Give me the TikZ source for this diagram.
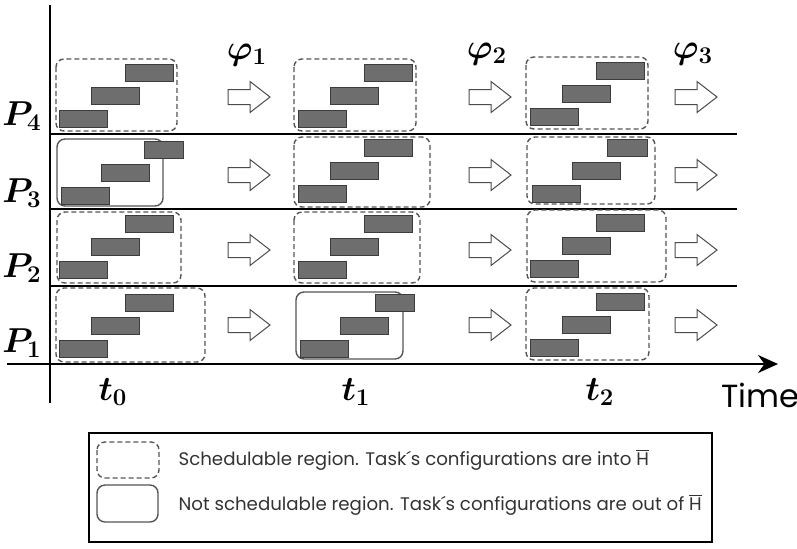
\documentclass[tikz,border=0pt]{standalone}
\usepackage{amsmath}
\usepackage{fontspec}
\setsansfont{Poppins}
\usetikzlibrary{arrows.meta}
\definecolor{barfill}{HTML}{6E6E6E}
\definecolor{bardraw}{HTML}{3C3C3C}
\definecolor{boxgray}{HTML}{555555}

\newcommand{\taskbars}[5]{%
  \draw[bar] (#1,#2) rectangle ++(48,17);
  \draw[bar] (#1+#3,#2-23) rectangle ++(48,17);
  \draw[bar] (#1+#4,#2-46) rectangle ++(#5,17);}
\newcommand{\flowarrow}[2]{%
  \draw[flow] (#1,#2) ++(0,-7.5) -- ++(22,0) -- ++(0,-8) -- ++(20,15.5)
    -- ++(-20,15.5) -- ++(0,-8) -- ++(-22,0) -- cycle;}

\begin{document}
\begin{tikzpicture}[x=0.5pt,y=-0.5pt,semithick]
\tikzstyle{bar}=[fill=barfill,draw=bardraw,line width=0.5pt]
\tikzstyle{sched}=[draw=boxgray,dash pattern=on 2.5pt off 1.5pt,rounded corners=4pt,line width=0.7pt]
\tikzstyle{unsched}=[draw=boxgray,rounded corners=4pt,line width=0.7pt]
\tikzstyle{flow}=[draw=black!70,fill=white,line width=0.5pt]
\tikzstyle{hand}=[inner sep=0pt,font=\fontsize{17}{20}\selectfont\boldmath]
\tikzstyle{legend}=[anchor=west,inner sep=0pt,text=black!80,font=\sffamily\fontsize{9.1}{11}\selectfont]
\useasboundingbox (0,0) rectangle (797,548);

\coordinate (top) at (50,5);
\coordinate (bottom) at (50,403);
\coordinate (start) at (7,364);
\coordinate (end) at (778,364);
\draw[line width=1.2pt] (top) -- (bottom);
\draw[line width=1.1pt,-{Stealth[length=10pt,width=9pt]}] (start) -- (end);
\foreach \y in {134,209,286}
  \draw[line width=1pt] (50,\y) -- (737,\y);

\node[hand] (p4) at (22,116) {$P_4$};
\node[hand] (p3) at (22,193) {$P_3$};
\node[hand] (p2) at (22,268) {$P_2$};
\node[hand] (p1) at (22,343) {$P_1$};
\node[hand] (t0) at (113,392) {$t_0$};
\node[hand] (t1) at (356,392) {$t_1$};
\node[hand] (t2) at (600,392) {$t_2$};
\node[hand] (phi1) at (247,55) {$\varphi_1$};
\node[hand] (phi2) at (487,54) {$\varphi_2$};
\node[hand] (phi3) at (693,54) {$\varphi_3$};
\node[inner sep=0pt,font=\sffamily\fontsize{16}{18}\selectfont] (time) at (760,395) {Time};

\draw[sched] (56,59) rectangle (177,131);
\draw[unsched] (57,139) rectangle (163,206);
\draw[sched] (57,212) rectangle (181,283);
\draw[sched] (56,288) rectangle (205,362);
\taskbars{59}{110}{32}{66}{48}
\taskbars{61}{187}{40}{83}{39}
\taskbars{59}{261}{32}{66}{48}
\taskbars{59}{340}{32}{66}{48}

\draw[sched] (294,59) rectangle (416,131);
\draw[sched] (294,137) rectangle (430,207);
\draw[sched] (294,212) rectangle (420,283);
\draw[unsched] (296,292) rectangle (403,359);
\taskbars{298}{110}{32}{66}{48}
\taskbars{298}{185}{32}{66}{48}
\taskbars{298}{261}{32}{66}{48}
\taskbars{300}{340}{40}{75}{39}

\draw[sched] (526,57) rectangle (648,129);
\draw[sched] (527,137) rectangle (655,204);
\draw[sched] (527,210) rectangle (666,282);
\draw[sched] (526,288) rectangle (649,360);
\taskbars{530}{108}{32}{66}{48}
\taskbars{532}{185}{40}{75}{40}
\taskbars{530}{260}{32}{66}{48}
\taskbars{530}{339}{32}{66}{48}

\foreach \x in {228,469,675}
  \foreach \y in {97,175,250,325}
    {\flowarrow{\x}{\y}}

\draw[line width=0.75pt] (89,433) rectangle (712,542);
\draw[sched] (97,442) rectangle (159,478);
\draw[unsched] (97,485) rectangle (158,522);
\node[legend] (l1) at (178,460) {Schedulable region. Task´s configurations are into $\overline{\mbox{H}}$};
\node[legend] (l2) at (178,505) {Not schedulable region. Task´s configurations are out of $\overline{\mbox{H}}$};
\end{tikzpicture}
\end{document}
